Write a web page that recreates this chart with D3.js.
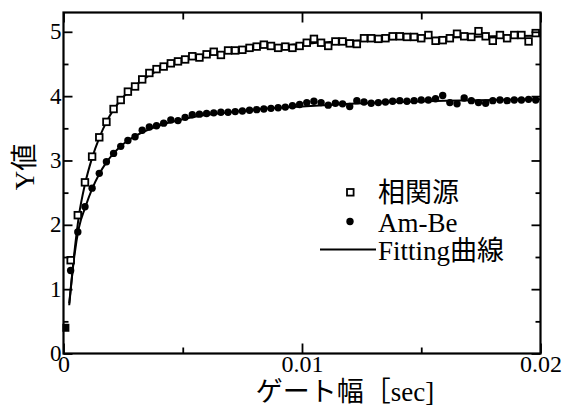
<!DOCTYPE html>
<html>
<head>
<meta charset="utf-8">
<script src="https://cdn.jsdelivr.net/npm/d3@7"></script>
<style>
  body { margin: 0; background: #fff; }
  svg text { font-family: "Liberation Serif", "Noto Sans CJK JP", serif; fill: #000; }
</style>
</head>
<body>
<div class="chart"></div>
<script>
// gate widths (ms) shared by both measured series
const gateMs = [0.3,0.6,0.9,1.2,1.5,1.8,2.1,2.4,2.7,3.0,
  3.3,3.6,3.9,4.2,4.5,4.8,5.1,5.4,5.7,6.0,
  6.3,6.6,6.9,7.2,7.5,7.8,8.1,8.4,8.7,9.0,
  9.3,9.6,9.9,10.2,10.5,10.8,11.1,11.4,11.7,12.0,
  12.3,12.6,12.9,13.2,13.5,13.8,14.1,14.4,14.7,15.0,
  15.3,15.6,15.9,16.2,16.5,16.8,17.1,17.4,17.7,18.0,
  18.3,18.6,18.9,19.2,19.5,19.8];

// 相関源 (open squares)
const corrY = [1.45,2.15,2.66,3.06,3.36,3.60,3.80,3.94,4.07,4.15,
  4.26,4.36,4.42,4.46,4.51,4.54,4.57,4.62,4.60,4.65,
  4.69,4.64,4.71,4.71,4.72,4.75,4.77,4.80,4.78,4.75,
  4.77,4.75,4.78,4.83,4.89,4.83,4.78,4.85,4.85,4.82,
  4.81,4.90,4.90,4.89,4.90,4.93,4.93,4.92,4.92,4.90,
  4.95,4.86,4.87,4.90,4.97,4.93,4.92,5.01,4.93,4.86,
  4.95,4.90,4.95,4.95,4.85,4.98];

// Am-Be (filled circles), first point at 0.1 ms
const amBeMs = [0.1].concat(gateMs);
const amBeY = [0.40,
  1.29,1.89,2.28,2.57,2.80,2.98,3.11,3.22,3.31,3.37,
  3.47,3.52,3.54,3.58,3.63,3.62,3.67,3.71,3.72,3.73,
  3.74,3.75,3.75,3.76,3.77,3.78,3.79,3.80,3.81,3.82,
  3.83,3.85,3.87,3.90,3.92,3.90,3.86,3.89,3.88,3.84,
  3.93,3.91,3.89,3.90,3.91,3.92,3.93,3.92,3.93,3.94,
  3.94,3.96,4.01,3.90,3.88,3.97,3.93,3.90,3.89,3.93,
  3.94,3.93,3.94,3.94,3.95,3.94];

// fitting curves
const fitMs = [0.24,0.45,0.65,0.9,1.2,1.5,1.8,2.1,2.4,2.7,3.0,3.5,4.0,5.0,6.0,7.0,8.0,10,12,14,16,18,20];
const fitCorr = [0.78,1.55,2.15,2.63,3.04,3.35,3.60,3.79,3.94,4.06,4.16,4.30,4.41,4.55,4.64,4.70,4.75,4.81,4.86,4.89,4.91,4.93,4.94];
const fitAmBe = [0.75,1.50,1.96,2.26,2.56,2.79,2.97,3.11,3.22,3.31,3.38,3.47,3.54,3.64,3.71,3.75,3.79,3.84,3.88,3.91,3.93,3.94,3.95];

const xMajor = [0, 0.01, 0.02];
const xLabels = ["0", "0.01", "0.02"];
const xMinor = [0.005, 0.015];
const yMajor = [0, 1, 2, 3, 4, 5];
const yMinor = [0.5, 1.5, 2.5, 3.5, 4.5];

const legendLabels = ["相関源", "Am-Be", "Fitting曲線"];

let svgWidth = 568, svgHeight = 407;
const margin = {top: 12.5, right: 27.5, bottom: 53.5, left: 63.5};
let chartWidth = svgWidth - margin.left - margin.right;
let chartHeight = svgHeight - margin.top - margin.bottom;

let svg = d3.select(".chart").append("svg")
  .attr("width", svgWidth).attr("height", svgHeight);
let chart = svg.append("g").attr("transform", `translate(${margin.left},${margin.top})`);

let x = d3.scaleLinear().domain([0, 0.02]).range([0, chartWidth]);
let y = d3.scaleLinear().domain([0, 5.3]).range([chartHeight, 0]);

// fitting lines
let line = d3.line().x(d => x(d[0] / 1000)).y(d => y(d[1])).curve(d3.curveMonotoneX);
[fitCorr, fitAmBe].forEach(vals => {
  chart.append("path")
    .datum(fitMs.map((t, i) => [t, vals[i]]))
    .attr("d", line)
    .attr("fill", "none").attr("stroke", "#000").attr("stroke-width", 2);
});

// Am-Be markers
const amBe = amBeMs.map((t, i) => [t, amBeY[i]]);
chart.selectAll(".ambe").data(amBe.slice(1)).enter().append("circle")
  .attr("cx", d => x(d[0] / 1000)).attr("cy", d => y(d[1]))
  .attr("r", 3.7).attr("fill", "#000");
chart.append("rect")
  .attr("x", x(amBe[0][0] / 1000) - 3.5).attr("y", y(amBe[0][1]) - 4)
  .attr("width", 7).attr("height", 8).attr("fill", "#000");

// 相関源 markers
chart.selectAll(".corr").data(gateMs.map((t, i) => [t, corrY[i]])).enter().append("rect")
  .attr("x", d => x(d[0] / 1000) - 3.3).attr("y", d => y(d[1]) - 3.3)
  .attr("width", 6.6).attr("height", 6.6)
  .attr("fill", "#fff").attr("stroke", "#000").attr("stroke-width", 1.8);

// axes, ticks inward
function tidy(g) {
  g.select(".domain").remove();
  g.selectAll("line").attr("stroke-width", 1.8);
}
chart.append("g").call(d3.axisLeft(y).tickValues(yMajor).tickSize(-9).tickPadding(2).tickFormat(d3.format("d")))
  .call(tidy)
  .call(g => g.selectAll("text").attr("font-size", 23).attr("dy", "0.3em").attr("font-family", "Liberation Serif"));
chart.append("g").call(d3.axisLeft(y).tickValues(yMinor).tickSize(-5).tickFormat("")).call(tidy);
chart.append("g").attr("transform", `translate(${chartWidth},0)`)
  .call(d3.axisRight(y).tickValues(yMajor).tickSize(-9).tickFormat("")).call(tidy);
chart.append("g").attr("transform", `translate(${chartWidth},0)`)
  .call(d3.axisRight(y).tickValues(yMinor).tickSize(-5).tickFormat("")).call(tidy);

chart.append("g").attr("transform", `translate(0,${chartHeight})`)
  .call(d3.axisBottom(x).tickValues(xMajor).tickSize(-10).tickPadding(1).tickFormat((d, i) => xLabels[i]))
  .call(tidy)
  .call(g => g.selectAll("text").attr("font-size", 24).attr("dy", "0.72em").attr("font-family", "Liberation Serif"));
chart.append("g").attr("transform", `translate(0,${chartHeight})`)
  .call(d3.axisBottom(x).tickValues(xMinor).tickSize(-6).tickFormat("")).call(tidy);
chart.append("g").call(d3.axisTop(x).tickValues(xMajor).tickSize(-10).tickFormat("")).call(tidy);
chart.append("g").call(d3.axisTop(x).tickValues(xMinor).tickSize(-7).tickFormat("")).call(tidy);

// frame
chart.append("rect").attr("width", chartWidth).attr("height", chartHeight)
  .attr("fill", "none").attr("stroke", "#000").attr("stroke-width", 2.2);

// axis titles
svg.append("text").attr("transform", "translate(34,167) rotate(-90)")
  .attr("text-anchor", "middle").attr("font-size", 27).text("Y値");
svg.append("text").attr("x", 345).attr("y", 401)
  .attr("text-anchor", "middle").attr("font-size", 27).text("ゲート幅［sec]");

// legend
let legend = svg.append("g").attr("font-size", 27);
legend.append("rect").attr("x", 347).attr("y", 189).attr("width", 6.6).attr("height", 6.6)
  .attr("fill", "#fff").attr("stroke", "#000").attr("stroke-width", 1.8);
legend.append("circle").attr("cx", 350).attr("cy", 221.5).attr("r", 3.7).attr("fill", "#000");
legend.append("line").attr("x1", 320).attr("x2", 376).attr("y1", 249.5).attr("y2", 249.5)
  .attr("stroke", "#000").attr("stroke-width", 1.8);
legend.selectAll(".lab").data(legendLabels).enter().append("text")
  .attr("x", 378).attr("y", (d, i) => [202, 232, 260][i]).text(d => d);
</script>
</body>
</html>
